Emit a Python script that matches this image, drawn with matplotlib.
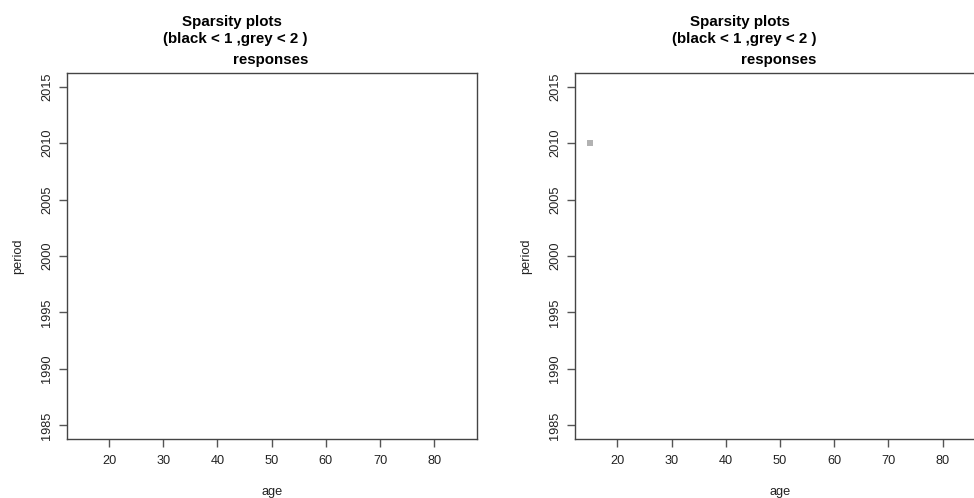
import matplotlib
matplotlib.use("Agg")
import matplotlib.pyplot as plt

plt.rcParams['font.family'] = ['Liberation Sans', 'DejaVu Sans']

# Data ranges of the grid (age x period)
age_range = [15, 85]
period_range = [1985, 2015]
age_ticks = [20, 30, 40, 50, 60, 70, 80]
period_ticks = [1985, 1990, 1995, 2000, 2005, 2010, 2015]

# Cells with fewer than 1 (black) / fewer than 2 (grey) responses, per panel
left_black_age, left_black_period = [], []
left_grey_age, left_grey_period = [], []
right_black_age, right_black_period = [], []
right_grey_age, right_grey_period = [15], [2010]

title_line1 = "Sparsity plots"
title_line2 = "(black < 1 ,grey < 2 )"
subtitle = "responses"

W, H = 974, 498
fig = plt.figure(figsize=(W / 100, H / 100), dpi=100)
fig.patch.set_facecolor("white")


def ext(lo, hi, f=0.04):
    d = hi - lo
    return lo - f * d, hi + f * d


def px(x, y):
    return x / W, 1 - y / H


panels = [
    dict(left=66.7, black=(left_black_age, left_black_period),
         grey=(left_grey_age, left_grey_period)),
    dict(left=575.0, black=(right_black_age, right_black_period),
         grey=(right_grey_age, right_grey_period)),
]

ax_w = 410.0
ax_top, ax_bot = 73.0, 439.0

for p in panels:
    l = p["left"]
    ax = fig.add_axes([l / W, 1 - ax_bot / H, ax_w / W, (ax_bot - ax_top) / H])
    ax.set_xlim(*ext(*age_range))
    ax.set_ylim(*ext(*period_range))
    ga, gp = p["grey"]
    ba, bp = p["black"]
    ax.plot(ga, gp, linestyle="none", marker="s", markersize=4.2,
            color="#b2b2b2", markeredgewidth=0)
    ax.plot(ba, bp, linestyle="none", marker="s", markersize=4.2,
            color="black", markeredgewidth=0)

    ax.set_xticks(age_ticks)
    ax.set_yticks(period_ticks)
    ax.set_yticklabels([str(t) for t in period_ticks], rotation=90, va="center")
    for s in ax.spines.values():
        s.set_color("#444444")
        s.set_linewidth(1.0)
    ax.tick_params(axis="both", direction="out", length=5.6, width=1.0,
                   color="#555555", labelcolor="#222222", labelsize=9.2)
    ax.tick_params(axis="x", pad=6.2)
    ax.tick_params(axis="y", pad=4.3)
    ax.set_xlabel("age", fontsize=9.2, color="#222222", labelpad=13.5)
    ax.set_ylabel("period", fontsize=9.2, color="#222222", labelpad=12)

    cx = l + ax_w / 2
    off = l - 66.7
    fig.text(*px(231.5 + off, 21.7), title_line1, ha="center", va="center",
             fontsize=10.9, fontweight="bold", color="black")
    fig.text(*px(235.7 + off, 39.3), title_line2, ha="center", va="center",
             fontsize=10.9, fontweight="bold", color="black")
    fig.text(*px(cx - 1.5, 60.0), subtitle, ha="center", va="center",
             fontsize=10.9, fontweight="bold", color="black")

fig.savefig("out.png", dpi=100, facecolor="white")
